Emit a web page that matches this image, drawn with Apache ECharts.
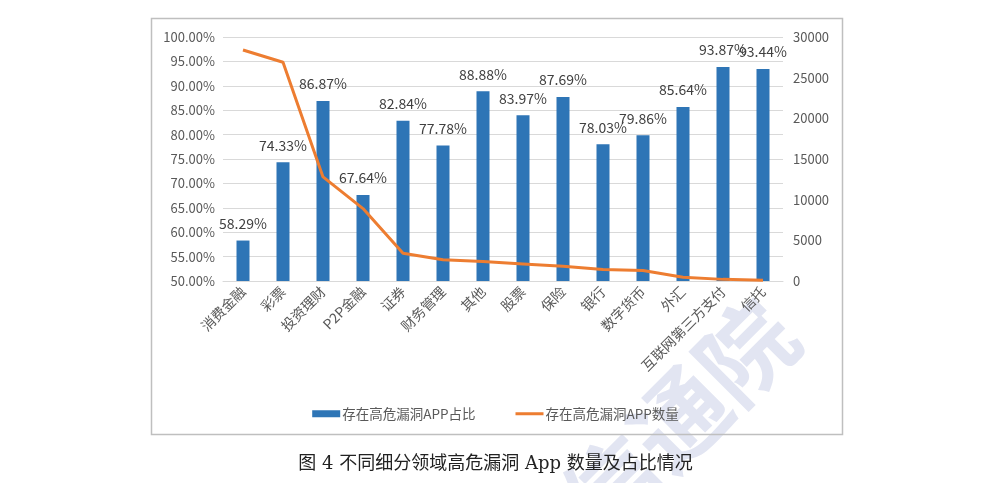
<!DOCTYPE html>
<html>
<head>
<meta charset="utf-8">
<script src="https://cdn.jsdelivr.net/npm/echarts@6/dist/echarts.min.js"></script>
<style>
html,body{margin:0;padding:0;background:#fff;}
#c{width:991px;height:483px;}
</style>
</head>
<body>
<div id="c"></div>
<script>
const categories = ['消费金融','彩票','投资理财','P2P金融','证券','财务管理','其他','股票','保险','银行','数字货币','外汇','互联网第三方支付','信托'];
const ratioValues = [58.29,74.33,86.87,67.64,82.84,77.78,88.88,83.97,87.69,78.03,79.86,85.64,93.87,93.44];
const countValues = [28400,26900,12800,8900,3400,2600,2400,2100,1800,1400,1300,450,200,80];
const ratioName = '存在高危漏洞APP占比';
const countName = '存在高危漏洞APP数量';
const titleText = '图 4 不同细分领域高危漏洞 App 数量及占比情况';
const watermarkText = '中国信通院';

const chart = echarts.init(document.getElementById('c'));
const font = '"Microsoft YaHei","Noto Sans CJK SC",sans-serif';
chart.setOption({
  animation:false,
  textStyle:{fontFamily:font},
  graphic:[{
    type:'text', x:780, y:318, rotation:Math.PI/4, z:-10, silent:true,
    style:{text:watermarkText, fill:'#e2e5f2', font:'bold 95px "Noto Sans CJK SC"', align:'right', verticalAlign:'middle'}
  },{
    type:'rect', shape:{x:151.5,y:18.5,width:691,height:416},
    style:{fill:'none',stroke:'#bfbfbf',lineWidth:1.5}, silent:true
  }],
  title:{
    text:titleText, left:'center', top:450,
    textStyle:{fontFamily:'"DejaVu Serif","Noto Sans CJK SC",serif',fontSize:18,fontWeight:'normal',color:'#222'}
  },
  legend:{
    top:402, left:'center', itemGap:40, itemWidth:28, itemHeight:7,
    textStyle:{fontSize:13.5,color:'#595959',fontFamily:font,padding:[0,0,0,-3]},
    data:[
      {name:ratioName,icon:'rect'},
      {name:countName,icon:'path://M0,0h0.01v0.01h-0.01z M0,2h28v3h-28z M0,6.99h0.01v0.01h-0.01z'}
    ]
  },
  grid:{left:223,right:208,top:37,bottom:202},
  xAxis:{
    type:'category', data:categories,
    axisLine:{lineStyle:{color:'#d9d9d9'}},
    axisTick:{show:false},
    axisLabel:{rotate:45,fontSize:14,color:'#595959',margin:8,interval:0}
  },
  yAxis:[{
    type:'value', min:50, max:100, interval:5,
    axisLine:{show:false}, axisTick:{show:false},
    splitLine:{lineStyle:{color:'#d9d9d9'}},
    axisLabel:{fontSize:13,color:'#595959',margin:8,formatter:v=>v.toFixed(2)+'%'}
  },{
    type:'value', min:0, max:30000, interval:5000,
    axisLine:{show:false}, axisTick:{show:false},
    splitLine:{show:false},
    axisLabel:{fontSize:13,color:'#595959',margin:10,formatter:v=>String(v)}
  }],
  series:[{
    name:ratioName, type:'bar', yAxisIndex:0, data:ratioValues, barWidth:13,
    itemStyle:{color:'#2E75B6'},
    label:{show:true,position:'top',distance:10,fontSize:14,color:'#404040',formatter:p=>p.value.toFixed(2)+'%'}
  },{
    name:countName, type:'line', yAxisIndex:1, data:countValues,
    symbol:'none', lineStyle:{color:'#ED7D31',width:3}, itemStyle:{color:'#ED7D31'}, z:5
  }]
});
</script>
</body>
</html>
